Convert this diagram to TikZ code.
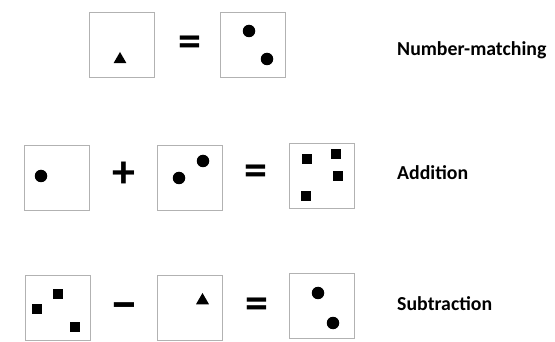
\documentclass[tikz,border=0pt]{standalone}
\usepackage{fontspec}
\setmainfont{Carlito}
\usetikzlibrary{shapes.geometric}
\begin{document}
\begin{tikzpicture}[x=1pt, y=-1pt,
            card/.style={rectangle, draw=black!30, line width=0.9pt, minimum size=65pt, inner sep=0pt},
            dot/.style={circle, fill=black, minimum size=12.5pt, inner sep=0pt},
            sq/.style={rectangle, fill=black, minimum size=10.5pt, inner sep=0pt},
            tri/.style={regular polygon, regular polygon sides=3, fill=black, minimum size=15pt, inner sep=0pt},
            op/.style={inner sep=0pt, font=\fontsize{46}{46}\selectfont\bfseries},
            task/.style={anchor=base west, inner sep=0pt, font=\fontsize{19.8}{21}\selectfont\bfseries},
        ]
            \useasboundingbox (0,0) rectangle (555,342);

            % Number-matching
            \node[card] (nm-a) at (121.5, 45) {};
            \node[tri] (nm-a-1) at (120, 59.5) {};
            \node[op] (nm-eq) at (190, 46.5) {=};
            \node[card] (nm-b) at (253, 44.5) {};
            \node[dot] (nm-b-1) at (249, 31) {};
            \node[dot] (nm-b-2) at (267, 59) {};
            \node[task] (nm-lbl) at (397, 56) {Number-matching};

            % Addition
            \node[card] (add-a) at (56.5, 177.5) {};
            \node[dot] (add-a-1) at (41, 176) {};
            \node[op] (add-plus) at (124, 175) {+};
            \node[card] (add-b) at (189.5, 177.5) {};
            \node[dot] (add-b-1) at (179, 178) {};
            \node[dot] (add-b-2) at (203, 161) {};
            \node[op] (add-eq) at (256, 175.5) {=};
            \node[card] (add-c) at (322, 176) {};
            \node[sq] (add-c-1) at (307, 159) {};
            \node[sq] (add-c-2) at (336, 154) {};
            \node[sq] (add-c-3) at (338, 176) {};
            \node[sq] (add-c-4) at (306, 196) {};
            \node[task] (add-lbl) at (397, 180) {Addition};

            % Subtraction
            \node[card] (sub-a) at (57.5, 307.5) {};
            \node[sq] (sub-a-1) at (37, 309) {};
            \node[sq] (sub-a-2) at (58, 294) {};
            \node[sq] (sub-a-3) at (75, 327) {};
            \node[op, font=\fontsize{52}{52}\selectfont\bfseries] (sub-minus) at (124.5, 312) {−};
            \node[card] (sub-b) at (189.5, 307.5) {};
            \node[tri] (sub-b-1) at (202.5, 300.5) {};
            \node[op] (sub-eq) at (257, 308.5) {=};
            \node[card] (sub-c) at (322, 305.5) {};
            \node[dot] (sub-c-1) at (318, 293) {};
            \node[dot] (sub-c-2) at (333, 323) {};
            \node[task] (sub-lbl) at (397, 310) {Subtraction};
        \end{tikzpicture}
\end{document}
